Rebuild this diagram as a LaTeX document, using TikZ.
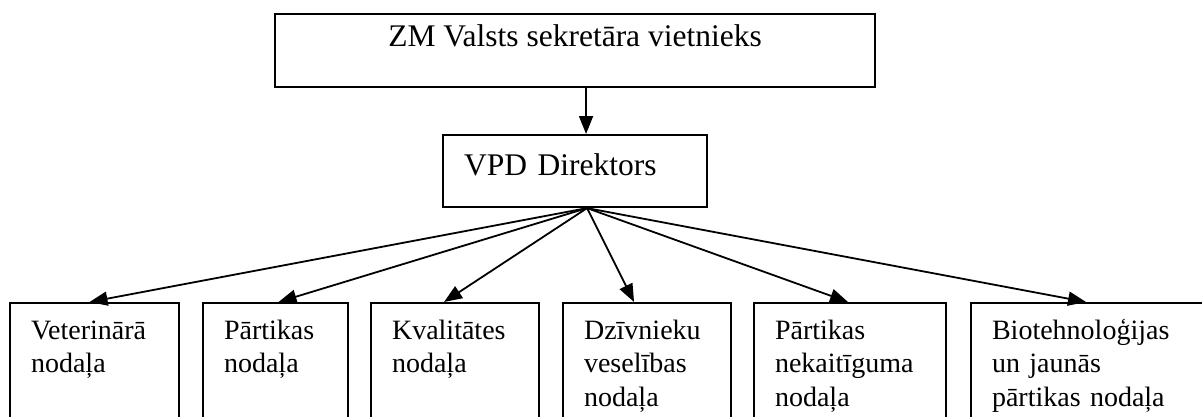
\documentclass[tikz,border=0pt]{standalone}
\usepackage{fontspec}
\setmainfont{Liberation Serif}
\usetikzlibrary{arrows.meta}

\tikzset{
  box/.style={draw, line width=2.1pt, inner ysep=0pt, anchor=north west},
  head/.style={box, font=\fontsize{31.5}{37}\selectfont},
  unit/.style={box, align=left, inner xsep=21pt, text height=36pt, text depth=130pt,
    font=\fontsize{28}{33.5}\selectfont},
  arr/.style={line width=1.8pt, -{Triangle[length=18pt,width=14pt]}}
}

\begin{document}
\begin{tikzpicture}[x=1pt,y=-1pt]
\useasboundingbox (0,0) rectangle (1202,416);

% top of the chain
\node[head, minimum width=600pt, inner xsep=0pt, text height=32pt, text depth=41pt] (zm) at (274,13) {ZM Valsts sekretāra vietnieks};
\node[head, align=left, text width=222pt, inner xsep=21pt, text height=40pt, text depth=32pt] (vpd) at (442,134) {VPD Direktors};

% departments
\node[unit, text width=127pt] (vet) at (9,302) {Veterinārā\\nodaļa};
\node[unit, text width=103pt] (part) at (202,302) {Pārtikas\\nodaļa};
\node[unit, text width=126pt] (kval) at (370,302) {Kvalitātes\\nodaļa};
\node[unit, text width=126pt] (dzv) at (562,302) {Dzīvnieku\\veselības\\nodaļa};
\node[unit, text width=150pt] (nek) at (753,302) {Pārtikas\\nekaitīguma\\nodaļa};
\node[unit, text width=210pt] (bio) at (970,302) {Biotehnoloģijas\\un jaunās\\pārtikas nodaļa};

\draw[arr] ([xshift=11pt]zm.south) -- ([xshift=11pt]vpd.north);

\coordinate (fan) at ([xshift=12pt]vpd.south);
\foreach \n/\dx in {vet/-5, part/3, kval/-11, dzv/-13, nek/-2, bio/-11}
  \draw[arr] (fan) -- ([xshift=\dx pt]\n.north);
\end{tikzpicture}
\end{document}
